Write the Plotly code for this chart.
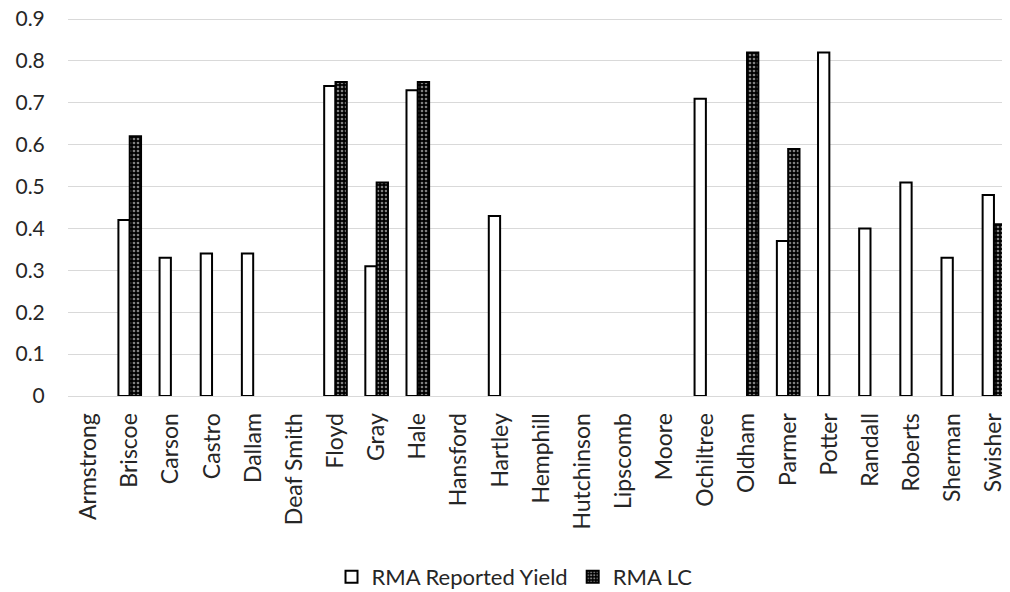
import plotly.graph_objects as go

counties = ["Armstrong", "Briscoe", "Carson", "Castro", "Dallam", "Deaf Smith", "Floyd", "Gray", "Hale",
            "Hansford", "Hartley", "Hemphill", "Hutchinson", "Lipscomb", "Moore", "Ochiltree", "Oldham",
            "Parmer", "Potter", "Randall", "Roberts", "Sherman", "Swisher"]
reported_yield = [None, 0.42, 0.33, 0.34, 0.34, None, 0.74, 0.31, 0.73, None, 0.43, None, None, None, None,
                  0.71, None, 0.37, 0.82, 0.40, 0.51, 0.33, 0.48]
rma_lc = [None, 0.62, None, None, None, None, 0.75, 0.51, 0.75, None, None, None, None, None, None,
          None, 0.82, 0.59, None, None, None, None, 0.41]
y_ticks = [0, 0.1, 0.2, 0.3, 0.4, 0.5, 0.6, 0.7, 0.8, 0.9]
y_tick_labels = ["0", "0.1", "0.2", "0.3", "0.4", "0.5", "0.6", "0.7", "0.8", "0.9"]

fig = go.Figure()
fig.add_trace(go.Bar(
    x=counties, y=reported_yield, name="RMA Reported Yield",
    marker=dict(color="white", line=dict(color="black", width=2)),
))
fig.add_trace(go.Bar(
    x=counties, y=rma_lc, name="RMA LC",
    marker=dict(color="black", line=dict(color="black", width=2),
                pattern=dict(shape=".", bgcolor="black", fgcolor="white", size=4, solidity=0.35)),
))

# page body has an 8px margin, so the figure is sized to fill the rest of the 1010x592 window
fig.update_layout(
    width=1002, height=584,
    barmode="group", bargap=0.45, bargroupgap=0.0,
    plot_bgcolor="white", paper_bgcolor="white",
    margin=dict(l=60, r=0, t=9, b=196, autoexpand=False),
    font=dict(family="Lato, Open Sans, sans-serif", color="#262626"),
    xaxis=dict(tickangle=-90, tickfont=dict(size=23), showgrid=False, showline=False, ticks="outside",
               ticklen=7, tickcolor="white", range=[-0.5, 22.39], automargin=False),
    yaxis=dict(range=[0, 0.905], tickmode="array", tickvals=y_ticks, ticktext=y_tick_labels,
               tickfont=dict(size=21), ticklabeloverflow="allow",
               gridcolor="#d9d9d9", gridwidth=1, zeroline=True, zerolinecolor="#d9d9d9", zerolinewidth=1,
               ticklen=18, ticks="outside", tickcolor="white", automargin=False),
    legend=dict(orientation="h", x=0.474, xanchor="center", y=-0.4776, yanchor="middle",
                font=dict(size=22), itemwidth=30, tracegroupgap=0),
)

fig.write_html("out.html")
